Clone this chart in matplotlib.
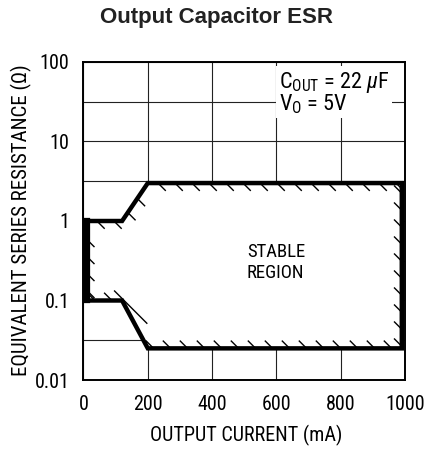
import numpy as np
import matplotlib.pyplot as plt
from matplotlib.collections import LineCollection
from matplotlib.ticker import FixedLocator, NullFormatter

plt.rcParams["font.family"] = ["Roboto Condensed", "DejaVu Sans"]
plt.rcParams["mathtext.fontset"] = "custom"
plt.rcParams["mathtext.rm"] = "Roboto Condensed"
plt.rcParams["mathtext.it"] = "Roboto Condensed:italic"

# stable region boundaries (output current in mA, ESR in ohms)
current_ma = [10, 120, 200, 990]
esr_upper = [1, 1, 3, 3]
esr_lower = [0.1, 0.1, 0.025, 0.025]

x_ticks = [0, 200, 400, 600, 800, 1000]
y_ticks = [0.01, 0.1, 1, 10, 100]
y_tick_labels = ["0.01", "0.1", "1", "10", "100"]
y_half_decades = [10 ** -1.5, 10 ** -0.5, 10 ** 0.5, 10 ** 1.5]


def hatch_segments(ax, xs, ys, spacing=17, length=11):
    pts = ax.transData.transform(np.column_stack([xs, ys]))
    inv = ax.transData.inverted()
    d = np.array([1.0, -1.0]) / np.sqrt(2)
    segs = []
    for p0, p1 in zip(pts[:-1], pts[1:]):
        v = p1 - p0
        L = np.hypot(*v)
        u = v / L
        normal = np.array([u[1], -u[0]])
        t = d if np.dot(d, normal) > 0 else -d
        if abs(u[0] * t[1] - u[1] * t[0]) < 0.5:
            # hatch nearly parallel to the edge: one long stroke near the knee
            a = p1 + np.array([-8.0, 10.0])
            segs.append(inv.transform([a, a + d * 47]))
            continue
        for s in np.arange(spacing * 0.6, L - 2, spacing):
            a = p0 + u * s
            segs.append(inv.transform([a, a + t * length]))
    return segs


fig = plt.figure(figsize=(4.27, 4.53), dpi=100)
ax = fig.add_axes([83.5 / 427, 1 - 380 / 453, 321.5 / 427, 318 / 453])
ax.set_yscale("log")
ax.set_xlim(0, 1000)
ax.set_ylim(0.01, 100)

ax.set_xticks(x_ticks)
ax.set_yticks(y_ticks, y_tick_labels)
ax.yaxis.set_minor_locator(FixedLocator(y_half_decades))
ax.yaxis.set_minor_formatter(NullFormatter())
ax.tick_params(which="both", length=0, labelsize=14.5)
ax.tick_params(axis="x", pad=11)
ax.tick_params(axis="y", pad=10)
ax.grid(which="both", color="#222222", linewidth=0.8)
ax.set_axisbelow(True)
for sp in ax.spines.values():
    sp.set_linewidth(1.4)

poly_x = current_ma + current_ma[::-1] + [current_ma[0]]
poly_y = esr_upper + esr_lower[::-1] + [esr_upper[0]]
ax.fill(poly_x, poly_y, color="white", zorder=2)
ax.plot(poly_x, poly_y, color="black", linewidth=3.2,
        solid_joinstyle="miter", zorder=4)
ax.plot([current_ma[0]] * 2, [esr_lower[0], esr_upper[0]],
        color="black", linewidth=4.5, zorder=4)

segs = hatch_segments(ax, poly_x, poly_y)
ax.add_collection(LineCollection(segs, colors="black", linewidths=1.0, zorder=3))

ax.text(508, 0.3, "STABLE\nREGION", fontsize=13.5, ha="left", va="center",
        linespacing=1.25, zorder=5)
ax.text(608, 80, "C$_{\\mathrm{OUT}}$ = 22 $\\mu$F\nV$_{\\mathrm{O}}$ = 5V",
        fontsize=16, ha="left", va="top", linespacing=0.85, zorder=5,
        bbox=dict(facecolor="white", edgecolor="none", pad=2))

fig.text(246 / 427, 1 - 435 / 453, "OUTPUT CURRENT (mA)", fontsize=14.5,
         ha="center", va="center")
fig.text(21 / 427, 1 - 220 / 453, "EQUIVALENT SERIES RESISTANCE (\u03a9)",
         fontsize=15, rotation=90, ha="center", va="center")
fig.text(217 / 427, 1 - 18 / 453, "Output Capacitor ESR", fontsize=16,
         fontweight="bold", family="Liberation Sans", color="#222222",
         ha="center", va="center")

fig.savefig("out.png", dpi=100)
